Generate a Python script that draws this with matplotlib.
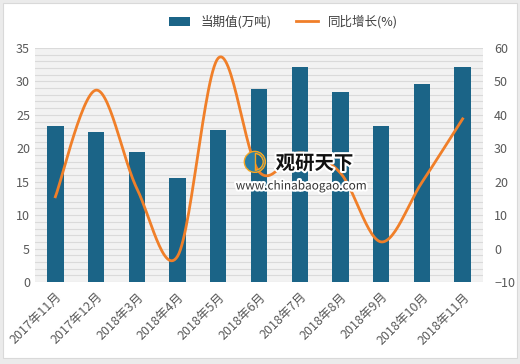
import numpy as np
import matplotlib.pyplot as plt
import matplotlib.patheffects as pe
from matplotlib.patches import Rectangle

plt.rcParams['font.family'] = ['Noto Sans CJK SC', 'DejaVu Sans']

MONTHS = ['2017年11月', '2017年12月', '2018年3月', '2018年4月', '2018年5月', '2018年6月',
          '2018年7月', '2018年8月', '2018年9月', '2018年10月', '2018年11月']
VALUES = [23.3, 22.4, 19.5, 15.6, 22.7, 28.9, 32.1, 28.4, 23.4, 29.6, 32.1]
GROWTH = [15.5, 47.4, 18.0, -2.3, 57.0, 23.0, 28.6, 22.6, 2.0, 19.8, 38.8]

BAR_COLOR = '#1B6487'
LINE_COLOR = '#F07F29'
TICK_COLOR = '#595959'


def smooth(x, y, n=30):
    # catmull-rom style smoothing, like excel's smoothed line
    x = np.asarray(x, float)
    y = np.asarray(y, float)
    px = np.concatenate([[x[0]], x, [x[-1]]])
    py = np.concatenate([[y[0]], y, [y[-1]]])
    xs, ys = [], []
    for i in range(1, len(px) - 2):
        t = np.linspace(0, 1, n)
        for p, out in ((px, xs), (py, ys)):
            p0, p1, p2, p3 = p[i - 1], p[i], p[i + 1], p[i + 2]
            m1 = (p2 - p0) / 2
            m2 = (p3 - p1) / 2
            h00 = 2 * t**3 - 3 * t**2 + 1
            h10 = t**3 - 2 * t**2 + t
            h01 = -2 * t**3 + 3 * t**2
            h11 = t**3 - t**2
            out.extend(h00 * p1 + h10 * m1 + h01 * p2 + h11 * m2)
    return np.array(xs), np.array(ys)


fig = plt.figure(figsize=(5.2, 3.64), dpi=100, facecolor='#EBEBEB')
fig.patches.append(Rectangle((3 / 520, 6 / 364), 514 / 520, 355 / 364,
                             transform=fig.transFigure, facecolor='white',
                             edgecolor='#D9D9D9', lw=0.8, zorder=-10))

ax = fig.add_axes([35 / 520, 82 / 364, 448 / 520, 234 / 364])
ax.set_facecolor('#F2F2F2')
x = np.arange(len(MONTHS))
for v in range(0, 36):
    ax.axhline(v, color='#DADADA', lw=0.8, zorder=0)
bars = ax.bar(x, VALUES, width=0.4, color=BAR_COLOR, zorder=2, label='当期值(万吨)')
ax.set_ylim(0, 35)
ax.set_xlim(-0.5, len(MONTHS) - 0.5)
ax.set_yticks(range(0, 36, 5))
ax.set_xticks(x)
ax.set_xticklabels(MONTHS, rotation=45, ha='right', rotation_mode='anchor', fontsize=8.5)
for s in ax.spines.values():
    s.set_visible(False)
ax.tick_params(length=0, colors=TICK_COLOR, labelsize=9)
ax.tick_params(axis='x', pad=6)

ax2 = ax.twinx()
sx, sy = smooth(x, GROWTH)
line, = ax2.plot(sx, sy, color=LINE_COLOR, lw=2, zorder=3, label='同比增长(%)')
ax2.set_ylim(-10, 60)
ax2.set_yticks(range(-10, 61, 10))
for s in ax2.spines.values():
    s.set_visible(False)
ax2.tick_params(length=0, colors=TICK_COLOR, labelsize=9, pad=8)

# watermark
halo = [pe.withStroke(linewidth=3, foreground='white')]
fig.text(0.605, 0.55, '观研天下', fontsize=14, fontweight='bold', color='#111111',
         ha='center', va='center', zorder=5, path_effects=halo)
fig.text(0.58, 0.489, 'www.chinabaogao.com', fontsize=8.5, color='#333333',
         ha='center', va='center', zorder=5, path_effects=halo)
fig.text(0.49, 0.55, '◐', fontsize=16, color='#2A7FA8', ha='center', va='center',
         zorder=5, path_effects=[pe.withStroke(linewidth=2, foreground='#F5A623')])

fig.legend([bars, line], ['当期值(万吨)', '同比增长(%)'], loc='center',
           bbox_to_anchor=(0.545, 0.94), ncol=2, frameon=False, fontsize=9,
           handlelength=1.7, columnspacing=2.0, labelcolor='#404040')

fig.savefig('out.png', dpi=100, facecolor=fig.get_facecolor())
